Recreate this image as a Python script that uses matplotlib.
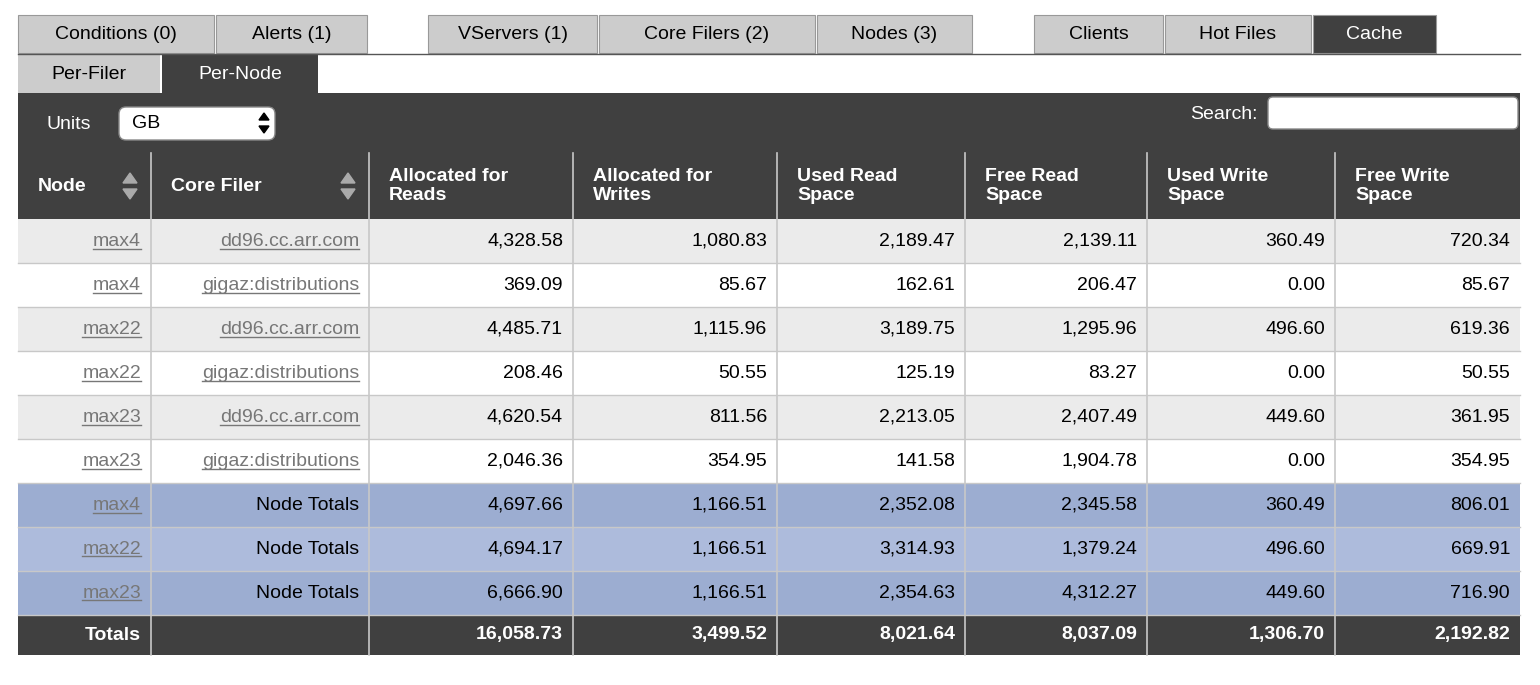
import matplotlib
matplotlib.use("Agg")
import matplotlib.pyplot as plt
from matplotlib.patches import Rectangle, FancyBboxPatch, Polygon

plt.rcParams["font.family"] = ["Liberation Sans", "DejaVu Sans"]

top_tabs = ["Conditions (0)", "Alerts (1)", "VServers (1)", "Core Filers (2)", "Nodes (3)", "Clients", "Hot Files", "Cache"]
sub_tabs = ["Per-Filer", "Per-Node"]
headers = ["Node", "Core Filer", "Allocated for\nReads", "Allocated for\nWrites", "Used Read\nSpace",
           "Free Read\nSpace", "Used Write\nSpace", "Free Write\nSpace"]
nodes = ["max4", "max4", "max22", "max22", "max23", "max23", "max4", "max22", "max23"]
filers = ["dd96.cc.arr.com", "gigaz:distributions", "dd96.cc.arr.com", "gigaz:distributions",
          "dd96.cc.arr.com", "gigaz:distributions", "Node Totals", "Node Totals", "Node Totals"]
alloc_reads = [4328.58, 369.09, 4485.71, 208.46, 4620.54, 2046.36, 4697.66, 4694.17, 6666.90]
alloc_writes = [1080.83, 85.67, 1115.96, 50.55, 811.56, 354.95, 1166.51, 1166.51, 1166.51]
used_read = [2189.47, 162.61, 3189.75, 125.19, 2213.05, 141.58, 2352.08, 3314.93, 2354.63]
free_read = [2139.11, 206.47, 1295.96, 83.27, 2407.49, 1904.78, 2345.58, 1379.24, 4312.27]
used_write = [360.49, 0.00, 496.60, 0.00, 449.60, 0.00, 360.49, 496.60, 449.60]
free_write = [720.34, 85.67, 619.36, 50.55, 361.95, 354.95, 806.01, 669.91, 716.90]
totals = [16058.73, 3499.52, 8021.64, 8037.09, 1306.70, 2192.82]

DARK = "#404040"
GREY = "#cccccc"
W, H = 1540, 685
fig = plt.figure(figsize=(15.4, 6.85), dpi=100)
ax = fig.add_axes([0, 0, 1, 1])
ax.set_xlim(0, W)
ax.set_ylim(H, 0)
ax.axis("off")
FS = 14

def rect(x0, y0, x1, y1, fc, ec="none", lw=0):
    ax.add_patch(Rectangle((x0, y0), x1 - x0, y1 - y0, fc=fc, ec=ec, lw=lw))

# top tabs
tab_x = [(18, 214), (216, 367), (428, 597), (599, 815), (817, 972), (1034, 1163), (1165, 1311), (1313, 1436)]
for (a, b), t in zip(tab_x, top_tabs):
    dark = t == "Cache"
    rect(a, 15, b, 53, DARK if dark else GREY, ec="#999999", lw=0.8)
    ax.text((a + b) / 2, 34, t, ha="center", va="center", fontsize=FS, color="white" if dark else "black")
ax.plot([18, 1520], [53.5, 53.5], color="#555555", lw=1)

sub_x = [(18, 160), (162, 318)]
for (a, b), t in zip(sub_x, sub_tabs):
    dark = t == "Per-Node"
    rect(a, 55, b, 93, DARK if dark else GREY)
    ax.text((a + b) / 2, 74, t, ha="center", va="center", fontsize=FS, color="white" if dark else "black")

# control bar
rect(18, 93, 1520, 153, DARK)
ax.text(46, 124, "Units", ha="left", va="center", fontsize=FS, color="white")
ax.add_patch(FancyBboxPatch((119, 107), 156, 33, boxstyle="round,pad=0,rounding_size=7", fc="white", ec="#888888"))
ax.text(132, 123, "GB", ha="left", va="center", fontsize=FS)
ax.add_patch(Polygon([[259, 120], [269, 120], [264, 113]], color="black"))
ax.add_patch(Polygon([[259, 126], [269, 126], [264, 133]], color="black"))
ax.text(1258, 114, "Search:", ha="right", va="center", fontsize=FS, color="white")
ax.add_patch(FancyBboxPatch((1268, 97), 250, 32, boxstyle="round,pad=0,rounding_size=5", fc="white", ec="#888888"))

# header
cols = [18, 151, 369, 573, 777, 965, 1147, 1335, 1520]
rect(18, 153, 1520, 219, DARK)
for i, h in enumerate(headers):
    ax.text(cols[i] + 20, 186, h, ha="left", va="center", fontsize=FS, color="white",
            fontweight="bold", linespacing=1.1)
for xa in (130, 348):
    ax.add_patch(Polygon([[xa - 7, 183], [xa + 7, 183], [xa, 173]], color="#aaaaaa"))
    ax.add_patch(Polygon([[xa - 7, 189], [xa + 7, 189], [xa, 199]], color="#aaaaaa"))

# body
row_h = 44
links = []
for r in range(9):
    y0 = 219 + r * row_h
    if r < 6:
        fc = "#ebebeb" if r % 2 == 0 else "white"
    else:
        fc = "#9cadd1" if r % 2 == 0 else "#adbbdc"
    rect(18, y0, 1520, y0 + row_h, fc)
    yc = y0 + row_h / 2
    t = ax.text(cols[1] - 10, yc, nodes[r], ha="right", va="center", fontsize=FS, color="#777777")
    links.append(t)
    if r < 6:
        t = ax.text(cols[2] - 10, yc, filers[r], ha="right", va="center", fontsize=FS, color="#777777")
        links.append(t)
    else:
        ax.text(cols[2] - 10, yc, filers[r], ha="right", va="center", fontsize=FS)
    vals = [alloc_reads[r], alloc_writes[r], used_read[r], free_read[r], used_write[r], free_write[r]]
    for j, v in enumerate(vals):
        ax.text(cols[j + 3] - 10, yc, f"{v:,.2f}", ha="right", va="center", fontsize=FS)
    ax.plot([18, 1520], [y0 + row_h, y0 + row_h], color="#c8c8c8", lw=1)

# totals
rect(18, 615, 1520, 655, DARK)
ax.text(cols[1] - 10, 635, "Totals", ha="right", va="center", fontsize=FS, color="white", fontweight="bold")
for j, v in enumerate(totals):
    ax.text(cols[j + 3] - 10, 635, f"{v:,.2f}", ha="right", va="center", fontsize=FS,
            color="white", fontweight="bold")

for x in cols[1:-1]:
    ax.plot([x, x], [153, 655], color="#c8c8c8", lw=1.2)

# underline links
fig.canvas.draw()
inv = ax.transData.inverted()
for t in links:
    bb = t.get_window_extent()
    (x0, ya), (x1, yb) = inv.transform([[bb.x0, bb.y0], [bb.x1, bb.y1]])
    ax.plot([x0, x1], [max(ya, yb) - 1, max(ya, yb) - 1], color="#777777", lw=1)

fig.savefig("out.png", dpi=100)
